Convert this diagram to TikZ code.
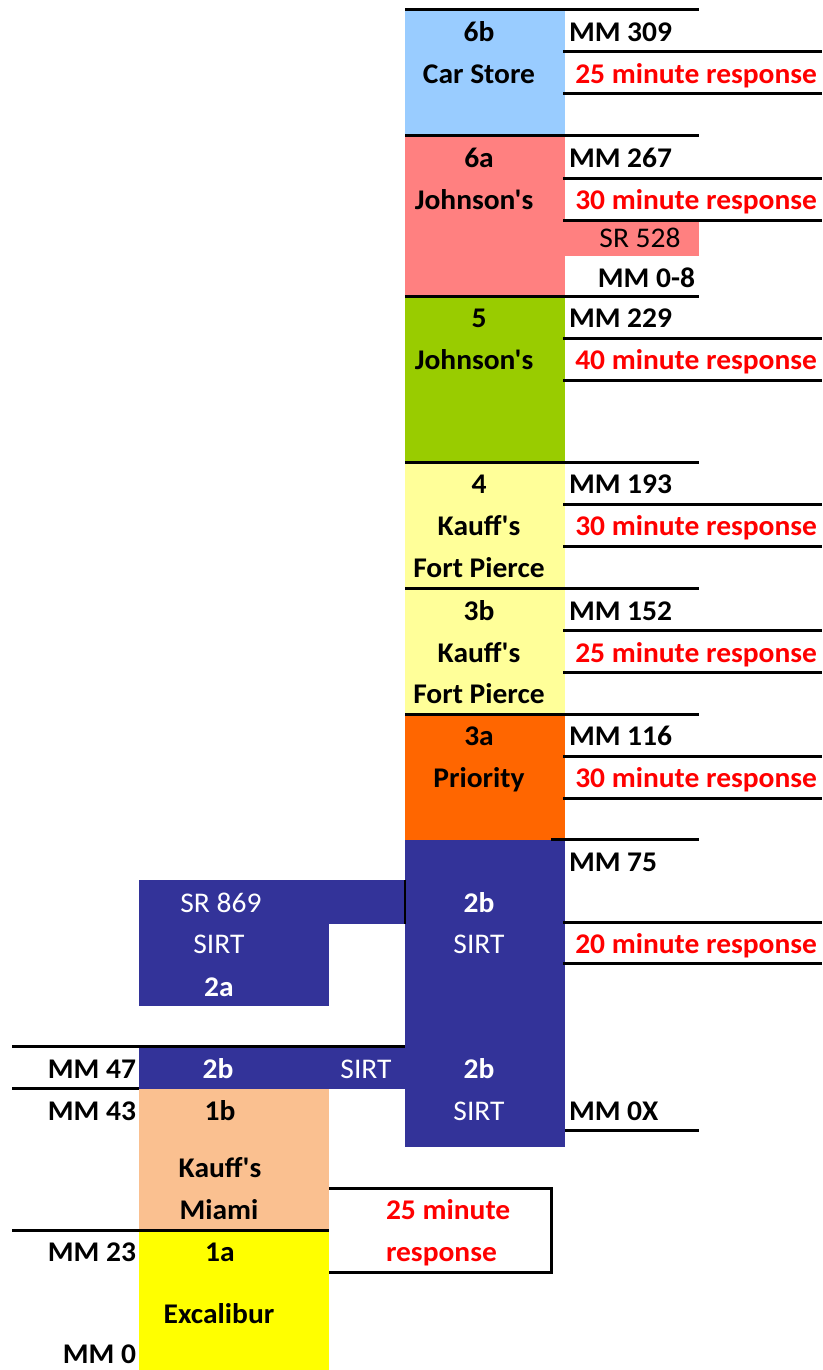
\documentclass[tikz,border=0pt]{standalone}
\usepackage{fontspec}
\newfontfamily\calfont{Carlito}[FakeStretch=1.035]
\definecolor{cstore}{HTML}{99CCFF}
\definecolor{cjohn}{HTML}{FF8080}
\definecolor{cgreen}{HTML}{99CC00}
\definecolor{clemon}{HTML}{FFFF99}
\definecolor{corange}{HTML}{FF6600}
\definecolor{csirt}{HTML}{333399}
\definecolor{cpeach}{HTML}{FAC090}
\definecolor{cyel}{HTML}{FFFF00}
\definecolor{cred}{HTML}{FF0000}
\begin{document}
\begin{tikzpicture}[x=1pt,y=-1pt,
  every node/.style={inner sep=0pt,outer sep=0pt,anchor=base,font=\calfont\fontsize{28.5}{32}\selectfont},
  bt/.style={font=\calfont\fontsize{28.5}{32}\selectfont\bfseries,text=black},
  wb/.style={font=\calfont\fontsize{28.5}{32}\selectfont\bfseries,text=white},
  wr/.style={font=\calfont\fontsize{28.5}{32}\selectfont,text=white},
  mmleft/.style={bt,anchor=base west},
  mmright/.style={bt,anchor=base east},
  resp/.style={font=\calfont\fontsize{28.5}{32}\selectfont\bfseries,text=cred,anchor=base east},
  respl/.style={font=\calfont\fontsize{28.5}{32}\selectfont\bfseries,text=cred,anchor=base west},
  rule/.style={line width=3pt,draw=black}
]
\useasboundingbox (0,0) rectangle (822,1370);
% ---------- coloured blocks ----------
\fill[cstore]  (405,10) rectangle (565,136);
\fill[cjohn]   (405,136) rectangle (565,296);
\fill[cjohn]   (565,220) rectangle (699,256);
\fill[cgreen]  (405,296) rectangle (565,462);
\fill[clemon]  (405,462) rectangle (565,714);
\fill[corange] (405,714) rectangle (565,840);
\fill[csirt]   (405,840) rectangle (565,1147);
\fill[csirt]   (139,880) rectangle (405,924);
\fill[csirt]   (139,924) rectangle (329,1006);
\fill[csirt]   (139,1047) rectangle (405,1089);
\fill[cpeach]  (139,1089) rectangle (329,1230);
\fill[cyel]    (139,1230) rectangle (329,1370);
% ---------- rules ----------
\foreach \y in {10,136,296,462,588,714} \draw[rule] (405,\y) -- (699,\y);
\foreach \y in {52,94,178,220,338,380,504,546,630,672,756,798,922,963} \draw[rule] (563,\y) -- (822,\y);
\draw[rule] (551,839) -- (699,839);
\draw[line width=2pt] (405,880) -- (405,924);
\draw[rule] (12,1046) -- (405,1046);
\draw[rule] (12,1088) -- (139,1088);
\draw[rule] (565,1130) -- (699,1130);
\draw[rule] (12,1230) -- (329,1230);
% ---------- texts: 6b ----------
\node[bt] (t6b) at (479,42) {6b};
\node[bt] (t6bn) at (479,84) {Car Store};
\node[mmleft] (mm309) at (569,42) {MM 309};
\node[resp] (r6b) at (817,84) {25 minute response};
% 6a
\node[bt] (t6a) at (479,167) {6a};
\node[bt] (t6an) at (474,209) {Johnson's};
\node[mmleft] (mm267) at (569,167) {MM 267};
\node[resp] (r6a) at (817,209) {30 minute response};
\node (sr528) at (640,247) {SR 528};
\node[mmright] (mm08) at (695,287) {MM 0-8};
% 5
\node[bt] (t5) at (479,327) {5};
\node[bt] (t5n) at (474,369) {Johnson's};
\node[mmleft] (mm229) at (569,327) {MM 229};
\node[resp] (r5) at (817,369) {40 minute response};
% 4
\node[bt] (t4) at (479,493) {4};
\node[bt] (t4n) at (479,535) {Kauff's};
\node[bt] (t4c) at (479,577) {Fort Pierce};
\node[mmleft] (mm193) at (569,493) {MM 193};
\node[resp] (r4) at (817,535) {30 minute response};
% 3b
\node[bt] (t3b) at (479,620) {3b};
\node[bt] (t3bn) at (479,662) {Kauff's};
\node[bt] (t3bc) at (479,703) {Fort Pierce};
\node[mmleft] (mm152) at (569,620) {MM 152};
\node[resp] (r3b) at (817,662) {25 minute response};
% 3a
\node[bt] (t3a) at (479,745) {3a};
\node[bt] (t3an) at (479,787) {Priority};
\node[mmleft] (mm116) at (569,745) {MM 116};
\node[resp] (r3a) at (817,787) {30 minute response};
% 2b upper
\node[mmleft] (mm75) at (569,871) {MM 75};
\node[wb] (t2b) at (479,912) {2b};
\node[wr] (t2bs) at (479,953) {SIRT};
\node[resp] (r2b) at (817,953) {20 minute response};
% 2a
\node[wr] (sr869) at (221,912) {SR 869};
\node[wr] (t2as) at (219,953) {SIRT};
\node[wb] (t2a) at (219,996) {2a};
% MM 47 row
\node[mmright] (mm47) at (136,1078) {MM 47};
\node[wb] (t2bl) at (218,1078) {2b};
\node[wr] (t2bls) at (366,1078) {SIRT};
\node[wb] (t2br) at (479,1078) {2b};
% MM 43 row
\node[mmright] (mm43) at (136,1120) {MM 43};
\node[bt] (t1b) at (220,1120) {1b};
\node[wr] (t2brs) at (479,1120) {SIRT};
\node[mmleft] (mm0x) at (569,1120) {MM 0X};
\node[bt] (t1bn) at (220,1177) {Kauff's};
\node[bt] (t1bc) at (219,1219) {Miami};
% response box
\coordinate (bx1) at (329,1188);
\coordinate (bx2) at (551,1188);
\coordinate (bx3) at (551,1272);
\coordinate (bx4) at (329,1272);
\draw[rule] (bx1) -- (bx2) -- (bx3) -- (bx4);
\node[respl] (r1a) at (386,1219) {25 minute};
\node[respl] (r1b) at (386,1261) {response};
% 1a
\node[mmright] (mm23) at (136,1261) {MM 23};
\node[bt] (t1a) at (220,1261) {1a};
\node[bt] (t1an) at (219,1323) {Excalibur};
\node[mmright] (mm0) at (136,1363) {MM 0};
\end{tikzpicture}
\end{document}
